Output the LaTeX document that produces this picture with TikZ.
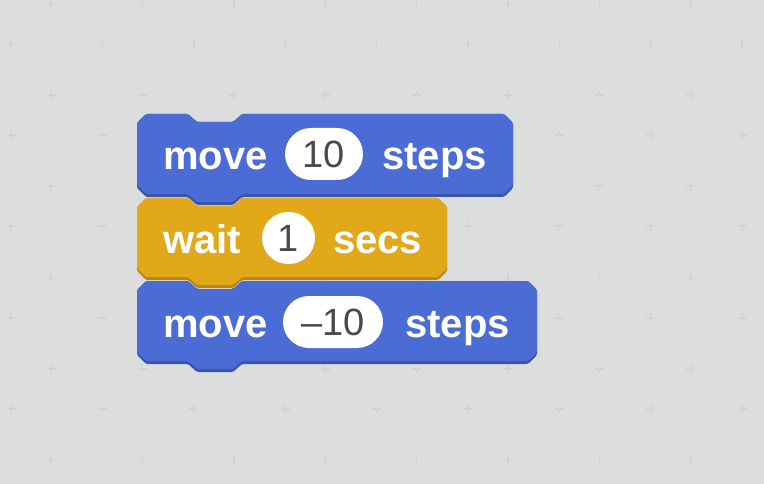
\documentclass[tikz,border=0pt]{standalone}
\usepackage{fontspec}
\setmainfont{Liberation Sans}
\usepackage{xcolor}

\definecolor{stagebg}{HTML}{DCDDDD}
\definecolor{gridplus}{HTML}{D2D4D4}
\definecolor{motion}{HTML}{4A6CD4}
\definecolor{motiondark}{HTML}{3A55A8}
\definecolor{control}{HTML}{E1A91A}
\definecolor{controldark}{HTML}{B8871A}
\definecolor{numgray}{HTML}{4A4A4A}

% outline of one stack block: left, top, right, bottom
\newcommand{\blockshape}[4]{(#1,#2+9) -- (#1+9,#2) -- (#1+51,#2) -- (#1+60,#2+8) -- (#1+96,#2+8) -- (#1+105,#2) -- (#3-9,#2) -- (#3,#2+9) -- (#3,#4-9) -- (#3-9,#4) -- (#1+105,#4) -- (#1+96,#4+8) -- (#1+60,#4+8) -- (#1+51,#4) -- (#1+9,#4) -- (#1,#4-9) -- cycle}

\tikzset{
  word/.style={anchor=base west,text=white,inner sep=0pt,font=\fontsize{40}{48}\selectfont\bfseries},
  slot/.style={fill=white,rounded corners=26pt,minimum height=52pt,inner sep=0pt,text=numgray,font=\fontsize{38}{46}\selectfont},
  plus/.style={gridplus,line width=1.6pt}
}

\begin{document}
\begin{tikzpicture}[x=1pt,y=-1pt]
                \useasboundingbox (0,0) rectangle (764,484);
                \fill[stagebg] (0,0) rectangle (764,484);

                % background grid
                \foreach \i in {0,...,8}
                  \foreach \j in {0,...,5} {
                    \draw[plus] ({51+91.4*\i-4.5},{3.5+91.4*\j}) -- ++(9,0) ({51+91.4*\i},{3.5+91.4*\j-4.5}) -- ++(0,9);
                    \draw[plus] ({11+91.4*\i-4.5},{43.5+91.4*\j}) -- ++(9,0) ({11+91.4*\i},{43.5+91.4*\j-4.5}) -- ++(0,9);
                  }

                % blocks, lowest first
                \fill[motiondark,rounded corners=1.5pt] \blockshape{137}{281}{537}{364};
                \fill[motion,rounded corners=1.5pt] \blockshape{137}{281}{537}{361};
                \fill[controldark,rounded corners=1.5pt] \blockshape{137}{198}{447}{280};
                \fill[control,rounded corners=1.5pt] \blockshape{137}{198}{447}{277};
                \fill[motiondark,rounded corners=1.5pt] \blockshape{137}{114}{513}{197};
                \fill[motion,rounded corners=1.5pt] \blockshape{137}{114}{513}{194};

                \node (move1) at (163,170) [word] {move};
                \node (steps1) at (382,170) [word] {steps};
                \node (dist1) at (324,154) [slot,minimum width=78pt] {10};

                \node (wait) at (163,254) [word] {wait};
                \node (secs) at (333,254) [word] {secs};
                \node (time) at (288.5,238) [slot,minimum width=53pt] {1};

                \node (move2) at (163,337.5) [word] {move};
                \node (steps2) at (405,337.5) [word] {steps};
                \node (dist2) at (333,322) [slot,minimum width=100pt] {\textendash10};
\end{tikzpicture}
\end{document}
